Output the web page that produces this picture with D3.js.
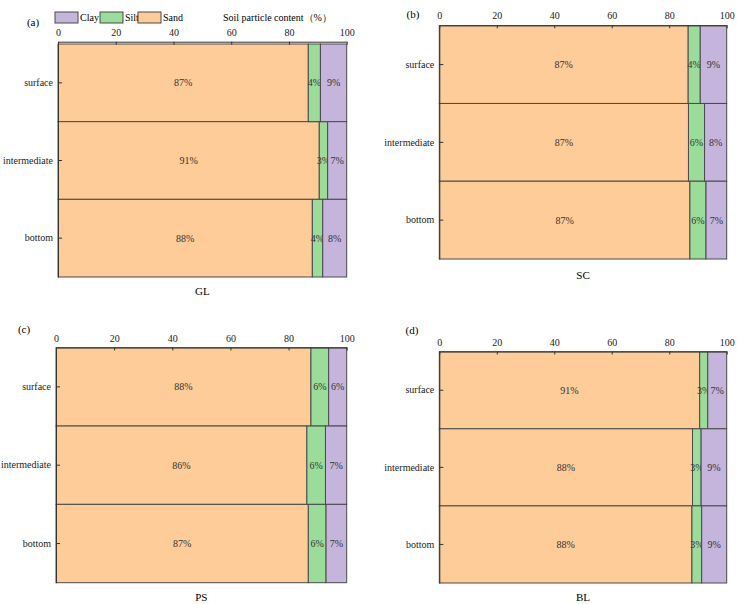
<!DOCTYPE html>
<html>
<head>
<meta charset="utf-8">
<script src="https://cdn.jsdelivr.net/npm/d3@7"></script>
<style>
  body { margin: 0; background: #fff; }
</style>
</head>
<body>
<div id="chart"></div>
<script>
// data
let LAYERS = ["surface", "intermediate", "bottom"]
let FRACTIONS = ["Sand", "Silt", "Clay"]
let TICKS = [0, 20, 40, 60, 80, 100]
let SITES = ["GL", "SC", "PS", "BL"]
let PANEL_TAGS = ["(a)", "(b)", "(c)", "(d)"]
// percentages per layer, order surface / intermediate / bottom
let SAND = {GL: [86.7, 90.5, 88.1], SC: [86.6, 86.7, 87.2], PS: [87.7, 86.3, 86.8], BL: [90.6, 88.1, 87.9]}
let SILT = {GL: [4.2, 2.9, 3.6], SC: [4.2, 5.6, 5.6], PS: [6.1, 6.4, 6.1], BL: [2.8, 3.0, 3.4]}
let CLAY = {GL: [9.1, 6.6, 8.3], SC: [9.2, 7.7, 7.2], PS: [6.2, 7.3, 7.1], BL: [6.6, 8.9, 8.7]}

let COLORS = {Sand: "#fdcc99", Silt: "#9bdc9b", Clay: "#c5b5dc"}
let FONT = "'Liberation Serif', 'Times New Roman', serif"

// panel geometry
let panels = [
    {x0: 58, x1: 346.7, top: 44, axisY: 41.7, bottom: 277, titleY: 291, tagX: 33, tagY: 22},
    {x0: 439.3, x1: 726.7, top: 25.7, axisY: 25.3, bottom: 259, titleY: 275, tagX: 413, tagY: 14},
    {x0: 56, x1: 346.7, top: 347.7, axisY: 347.5, bottom: 582.7, titleY: 597, tagX: 24, tagY: 329},
    {x0: 439.3, x1: 726.7, top: 351.7, axisY: 351.5, bottom: 583, titleY: 597, tagX: 412, tagY: 330}
]

let svg = d3.select("#chart")
    .append("svg")
    .attr("width", 738)
    .attr("height", 604)
    .style("font-family", FONT)

function drawPanel(site, i) {
    let p = panels[i]
    let g = svg.append("g")

    let x = d3.scaleLinear().domain([0, 100]).range([p.x0, p.x1])
    let y = d3.scaleBand().domain(LAYERS).range([p.top, p.bottom]).padding(0)

    let rows = LAYERS.map(function (layer, k) {
        return {layer: layer, Sand: SAND[site][k], Silt: SILT[site][k], Clay: CLAY[site][k]}
    })
    let series = d3.stack().keys(FRACTIONS)(rows)

    let seg = g.selectAll("g.series")
        .data(series)
        .enter()
        .append("g")
        .attr("class", "series")
        .style("fill", function (d) { return COLORS[d.key] })

    seg.selectAll("rect")
        .data(function (d) { return d })
        .enter()
        .append("rect")
        .attr("x", function (d) { return x(d[0]) })
        .attr("y", function (d) { return y(d.data.layer) })
        .attr("width", function (d) { return x(d[1]) - x(d[0]) })
        .attr("height", y.bandwidth())
        .attr("stroke", "#4a4a4a")
        .attr("stroke-width", 1)

    seg.selectAll("text")
        .data(function (d) { return d })
        .enter()
        .append("text")
        .attr("x", function (d) { return (x(d[0]) + x(d[1])) / 2 })
        .attr("y", function (d) { return y(d.data.layer) + y.bandwidth() / 2 })
        .attr("dy", "0.35em")
        .attr("text-anchor", "middle")
        .style("font-family", FONT)
        .style("font-size", "10px")
        .style("fill", "#333")
        .text(function (d) { return Math.round(d[1] - d[0]) + "%" })

    // top axis
    let xAxis = g.append("g")
        .attr("transform", "translate(0," + p.axisY + ")")
        .call(d3.axisTop(x).tickValues(TICKS).tickSizeInner(-3).tickSizeOuter(0).tickPadding(6))
    xAxis.attr("font-family", null)
    xAxis.selectAll("text").style("font-family", FONT).style("font-size", "10px").style("fill", "#222")
    xAxis.selectAll("line, path").attr("stroke", "#333")

    // left axis
    let yAxis = g.append("g")
        .attr("transform", "translate(" + p.x0 + ",0)")
        .call(d3.axisLeft(y).tickSizeInner(-4).tickSizeOuter(0).tickPadding(5))
    yAxis.attr("font-family", null)
    yAxis.selectAll("text").style("font-family", FONT).style("font-size", "10px").style("fill", "#222")
    yAxis.selectAll("line, path").attr("stroke", "#333")

    g.append("text")
        .attr("x", (p.x0 + p.x1) / 2)
        .attr("y", p.titleY)
        .attr("dy", "0.35em")
        .attr("text-anchor", "middle")
        .style("font-family", FONT)
        .style("font-size", "11px")
        .text(site)

    g.append("text")
        .attr("x", p.tagX)
        .attr("y", p.tagY)
        .attr("dy", "0.35em")
        .attr("text-anchor", "middle")
        .style("font-family", FONT)
        .style("font-size", "11px")
        .text(PANEL_TAGS[i])
}

SITES.forEach(drawPanel)

// legend (above panel a)
let legendItems = ["Clay", "Silt", "Sand"]
let legendX = [55, 100, 138]
let legend = svg.append("g")
legendItems.forEach(function (k, i) {
    legend.append("rect")
        .attr("x", legendX[i])
        .attr("y", 12)
        .attr("width", 23)
        .attr("height", 11)
        .attr("fill", COLORS[k])
        .attr("stroke", "#4a4a4a")
        .attr("stroke-width", 1)
    legend.append("text")
        .attr("x", legendX[i] + 25)
        .attr("y", 17.5)
        .attr("dy", "0.35em")
        .style("font-family", FONT)
        .style("font-size", "10px")
        .text(k)
})
legend.append("text")
    .attr("x", 223)
    .attr("y", 17)
    .attr("dy", "0.35em")
    .style("font-family", FONT)
    .style("font-size", "10px")
    .text("Soil particle content（%）")
</script>
</body>
</html>
